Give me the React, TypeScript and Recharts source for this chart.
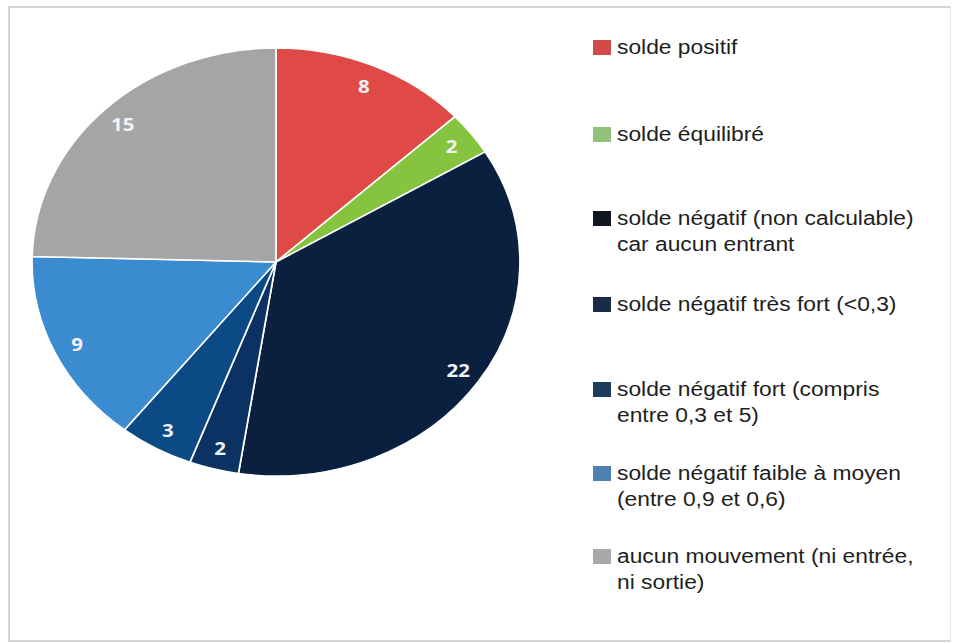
import { PieChart, Pie, Cell } from "recharts"

const categories = [
  "solde positif",
  "solde équilibré",
  "solde négatif (non calculable) car aucun entrant",
  "solde négatif très fort (<0,3)",
  "solde négatif fort (compris entre 0,3 et 5)",
  "solde négatif faible à moyen (entre 0,9 et 0,6)",
  "aucun mouvement (ni entrée, ni sortie)",
]

// texte de légende découpé comme dans l'original
const legendLines = [
  ["solde positif"],
  ["solde équilibré"],
  ["solde négatif (non calculable)", "car aucun entrant"],
  ["solde négatif très fort (<0,3)"],
  ["solde négatif fort (compris", "entre 0,3 et 5)"],
  ["solde négatif faible à moyen", "(entre 0,9 et 0,6)"],
  ["aucun mouvement (ni entrée,", "ni sortie)"],
]

const values = [8, 2, 22, 2, 3, 9, 15]

const sliceColors = ["#e04a46", "#86c440", "#0b1f3f", "#0b3262", "#0c4a85", "#3a8bd0", "#a6a5a5"]
const legendColors = ["#d24a48", "#92c27a", "#111722", "#192b48", "#1d3c5e", "#4e80b2", "#a8a8a8"]

const legendTops = [47, 134, 218, 304, 389, 473, 556]

const RAD = Math.PI / 180

const data = categories.map((name, i) => ({ name, value: values[i] }))

function renderLabel(props: any) {
  const { cx, cy, midAngle, outerRadius, value } = props
  const r = outerRadius * 0.9
  const x = cx + r * Math.cos(-midAngle * RAD)
  const y = cy + r * Math.sin(-midAngle * RAD)
  return (
    <text
      x={x}
      y={y}
      textAnchor="middle"
      dominantBaseline="central"
      fill="#eef1f5"
      fontFamily="'Open Sans', sans-serif"
      fontWeight={700}
      fontSize={18}
    >
      {value}
    </text>
  )
}

export default function App() {
  return (
    <div style={{ position: "absolute", left: 0, top: 0, width: 953, height: 643, background: "#fff" }}>
      <div
        style={{
          position: "absolute",
          left: 8,
          top: 6,
          width: 940,
          height: 632,
          border: "2px solid #d4d4d4",
          borderRight: "1px solid #e8e8e8",
        }}
      />
      <div
        style={{
          position: "absolute",
          left: 61,
          top: 47,
          width: 430,
          height: 430,
          transform: "scaleX(1.14)",
          transformOrigin: "215px 215px",
        }}
      >
        <PieChart width={430} height={430} margin={{ top: 0, right: 0, bottom: 0, left: 0 }}>
          <Pie
            data={data}
            dataKey="value"
            nameKey="name"
            cx={215}
            cy={215}
            outerRadius={214}
            startAngle={90}
            endAngle={-270}
            stroke="#ffffff"
            strokeWidth={1.5}
            label={renderLabel}
            labelLine={false}
            isAnimationActive={false}
          >
            {data.map((d, i) => (
              <Cell key={d.name} fill={sliceColors[i]} />
            ))}
          </Pie>
        </PieChart>
      </div>

      {legendLines.map((lines, i) => (
        <div key={categories[i]} style={{ position: "absolute", left: 593, top: legendTops[i] - 13 }}>
          <div
            style={{
              position: "absolute",
              left: 0,
              top: 6,
              width: 18,
              height: 15,
              background: legendColors[i],
            }}
          />
          <div
            style={{
              position: "absolute",
              left: 24,
              top: 0,
              fontFamily: "'Liberation Sans', Arial, sans-serif",
              fontSize: 20,
              lineHeight: "26px",
              color: "#1e1e1e",
              transform: "scaleX(1.14)",
              transformOrigin: "0 0",
            }}
          >
            {lines.map((l) => (
              <div key={l} style={{ whiteSpace: "nowrap" }}>
                {l}
              </div>
            ))}
          </div>
        </div>
      ))}
    </div>
  )
}
